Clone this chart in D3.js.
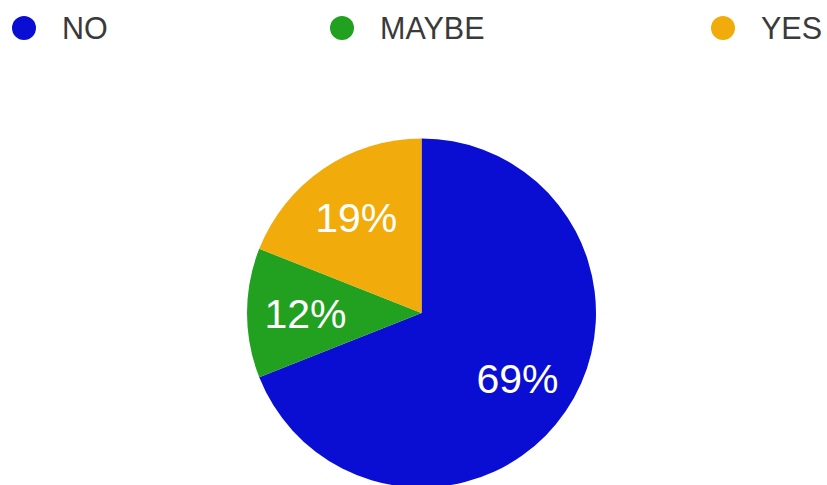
<!DOCTYPE html>
<html>
<head>
<meta charset="utf-8">
<script src="https://cdn.jsdelivr.net/npm/d3@7"></script>
<style>
  body { margin: 0; background: #fff; }
  svg { display: block; font-family: "Liberation Sans", Arial, Helvetica, sans-serif; }
</style>
</head>
<body>
<svg id="chart" width="827" height="485"></svg>
<script>
const categories = ['NO', 'MAYBE', 'YES'];
const values = [69, 12, 19];
const colors = ['#0a0ed3', '#21a11f', '#f1ac0b'];
const legendX = [24, 342, 723];

const
  width = 827,
  height = 485,
  cx = 421.5,
  cy = 313,
  radius = 174.5
  ;

const svg = d3.select('#chart');

const color = d3.scaleOrdinal().domain(categories).range(colors);

const data = categories.map((c, i) => ({ id: c, value: values[i] }));

const pie = d3.pie().sort(null).value(d => d.value);
const arc = d3.arc().innerRadius(0).outerRadius(radius);
const labelArc = d3.arc().innerRadius(116).outerRadius(116);

const g = svg.append('g').attr('transform', `translate(${cx},${cy})`);

const slices = pie(data);

g.selectAll('path')
  .data(slices)
  .enter().append('path')
  .attr('d', arc)
  .attr('fill', d => color(d.data.id));

const total = d3.sum(values);

g.selectAll('text')
  .data(slices)
  .enter().append('text')
  .attr('transform', d => `translate(${labelArc.centroid(d)})`)
  .attr('text-anchor', 'middle')
  .attr('dy', '0.36em')
  .attr('fill', '#fff')
  .style('font-size', '41px')
  .text(d => Math.round(d.data.value / total * 100) + '%');

// legend
const legend = svg.append('g')
  .selectAll('g')
  .data(categories)
  .enter().append('g')
  .attr('transform', (d, i) => `translate(${legendX[i]},28)`);

legend.append('circle')
  .attr('r', 12)
  .attr('fill', d => color(d));

legend.append('text')
  .attr('x', 38)
  .attr('dy', '0.36em')
  .attr('fill', '#3a3a3a')
  .style('font-size', '30.5px')
  .text(d => d);
</script>
</body>
</html>
